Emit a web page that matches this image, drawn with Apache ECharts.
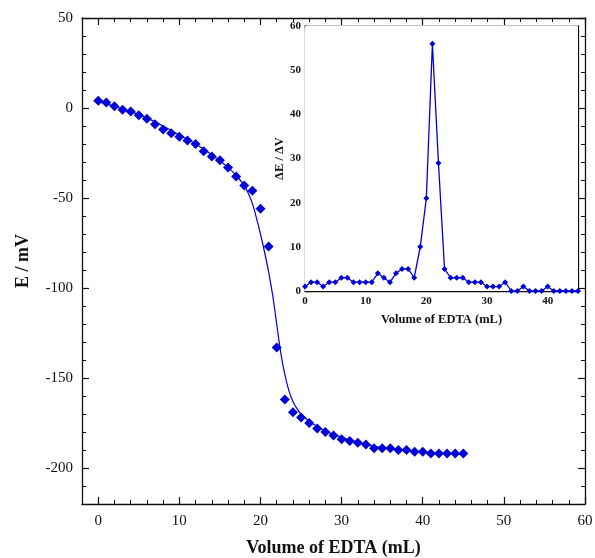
<!DOCTYPE html>
<html>
<head>
<meta charset="utf-8">
<script src="https://cdn.jsdelivr.net/npm/echarts@6/dist/echarts.min.js"></script>
<style>
  html, body { margin: 0; padding: 0; background: #fff; }
  #chart { width: 595px; height: 558px; }
</style>
</head>
<body>
<div id="chart"></div>
<script>
// Titration of a metal ion with EDTA: electrode potential vs. titrant volume.
const volume = [0,1,2,3,4,5,6,7,8,9,10,11,12,13,14,15,16,17,18,19,20,21,22,23,24,25,26,27,28,29,30,31,32,33,34,35,36,37,38,39,40,41,42,43,44,45];
const potential = [4,3,1,-1,-2,-4,-6,-9,-12,-14,-16,-18,-20,-24,-27,-29,-33,-38,-43,-46,-56,-77,-133,-162,-169,-172,-175,-178,-180,-182,-184,-185,-186,-187,-189,-189,-189,-190,-190,-191,-191,-192,-192,-192,-192,-192];

// Fitted titration curve, sampled along its trace.
const fitVolume = [0,2,4,6,8,10,12,14,15,16,17,18,18.5,19,19.5,20,20.5,21,21.5,22,22.5,23,23.5,24,24.5,25,26,27,28,30,33,36,40,45];
const fitPotential = [3.5,1,-2,-5.5,-10,-15,-20,-26,-29.5,-33,-37.5,-43,-47.5,-53,-61,-70,-80,-91,-104,-120,-136,-148,-157,-163,-167,-170,-174,-177,-179.5,-183,-187,-189.3,-191,-192.5];

// First derivative |ΔE/ΔV| (inset).
const derivative = [1,2,2,1,2,2,3,3,2,2,2,2,4,3,2,4,5,5,3,10,21,56,29,5,3,3,3,2,2,2,1,1,1,2,0,0,1,0,0,0,1,0,0,0,0,0];

// Tick labels
const mainXLabels = [0,10,20,30,40,50,60];
const mainYLabels = [-200,-150,-100,-50,0,50];
const insetXLabels = [0,10,20,30,40];
const insetYLabels = [0,10,20,30,40,50,60];

function range(a, b, step) {
  const out = [];
  for (let v = a; v <= b + 1e-9; v += step) out.push(v);
  return out;
}
const mainXMinor = range(0, 58, 2);
const mainYMinor = range(-210, 40, 10);
const insetXMinor = range(0, 44, 2);
const insetYMinor = range(0, 60, 2);

const BLUE = '#0000d8';
const INK = '#111';
const serif = '"Liberation Serif", "DejaVu Serif", serif';

function axisPair(gridIndex, position, min, max, major, minor, labelOpts, majorLen, minorLen, nameOpts) {
  const base = {
    type: 'value', gridIndex, position, min, max,
    splitLine: { show: false }
  };
  const majorAxis = Object.assign({}, base, {
    axisLine: { show: true, onZero: false, lineStyle: { color: INK, width: 1.3 } },
    axisTick: { show: true, inside: true, length: majorLen, customValues: major, lineStyle: { color: INK, width: 1.2 } },
    axisLabel: labelOpts ? Object.assign({ customValues: major }, labelOpts) : { show: false }
  }, nameOpts || {});
  const minorAxis = Object.assign({}, base, {
    axisLine: { show: false, onZero: false },
    axisTick: { show: true, inside: true, length: minorLen, customValues: minor, lineStyle: { color: INK, width: 1 } },
    axisLabel: { show: false }
  });
  return [majorAxis, minorAxis];
}

const mainXLabel = { show: true, fontFamily: serif, fontSize: 15, color: INK, margin: 10 };
const mainYLabel = { show: true, fontFamily: serif, fontSize: 15, color: INK, margin: 9 };
const insetXLabel = { show: true, fontFamily: serif, fontSize: 11, fontWeight: 'bold', color: INK, margin: 5 };
const insetYLabel = { show: true, fontFamily: serif, fontSize: 11, fontWeight: 'bold', color: INK, margin: 4 };

const xAxes = [].concat(
  axisPair(0, 'bottom', -2, 60, mainXLabels, mainXMinor, mainXLabel, 7, 4, {
    name: 'Volume of EDTA (mL)', nameLocation: 'middle', nameGap: 35,
    nameTextStyle: { fontFamily: serif, fontSize: 18, fontWeight: 'bold', color: INK }
  }),
  axisPair(0, 'top', -2, 60, mainXLabels, mainXMinor, null, 7, 4),
  axisPair(1, 'bottom', 0, 45, insetXLabels, insetXMinor, insetXLabel, 5, 3, {
    name: 'Volume of EDTA (mL)', nameLocation: 'middle', nameGap: 22,
    nameTextStyle: { fontFamily: serif, fontSize: 12.5, fontWeight: 'bold', color: INK }
  }),
  axisPair(1, 'top', 0, 45, insetXLabels, insetXMinor, null, 5, 3)
);

const yAxes = [].concat(
  axisPair(0, 'left', -220, 50, mainYLabels, mainYMinor, mainYLabel, 7, 4, {
    name: 'E / mV', nameLocation: 'middle', nameGap: 50, nameRotate: 90,
    nameTextStyle: { fontFamily: serif, fontSize: 18, fontWeight: 'bold', color: INK }
  }),
  axisPair(0, 'right', -220, 50, mainYLabels, mainYMinor, null, 7, 4),
  axisPair(1, 'left', 0, 60, insetYLabels, insetYMinor, insetYLabel, 5, 3, {
    name: 'ΔE / ΔV', nameLocation: 'middle', nameGap: 18, nameRotate: 90,
    nameTextStyle: { fontFamily: serif, fontSize: 12.5, fontWeight: 'bold', color: INK }
  }),
  axisPair(1, 'right', 0, 60, insetYLabels, insetYMinor, null, 5, 3)
);

const chart = echarts.init(document.getElementById('chart'), null, { renderer: 'canvas' });
chart.setOption({
  animation: false,
  backgroundColor: '#fff',
  grid: [
    { left: 82, top: 18, width: 503, height: 486, containLabel: false, outerBoundsMode: 'none' },
    { left: 305, top: 26, width: 273, height: 265, show: true, backgroundColor: '#fff', borderWidth: 0, z: 1, outerBoundsMode: 'none' }
  ],
  xAxis: xAxes,
  yAxis: yAxes,
  series: [
    {
      type: 'line', xAxisIndex: 0, yAxisIndex: 0,
      data: fitVolume.map((v, i) => [v, fitPotential[i]]),
      smooth: 0.3, showSymbol: false,
      lineStyle: { color: BLUE, width: 1.2 }, z: 2
    },
    {
      type: 'scatter', xAxisIndex: 0, yAxisIndex: 0,
      data: volume.map((v, i) => [v, potential[i]]),
      symbol: 'diamond', symbolSize: 10,
      itemStyle: { color: BLUE, opacity: 1 }, z: 3
    },
    {
      type: 'line', xAxisIndex: 4, yAxisIndex: 4,
      data: volume.map((v, i) => [v, derivative[i]]),
      symbol: 'diamond', symbolSize: 6, showAllSymbol: true,
      lineStyle: { color: BLUE, width: 1.3 },
      itemStyle: { color: BLUE }, z: 4
    }
  ]
});
</script>
</body>
</html>
